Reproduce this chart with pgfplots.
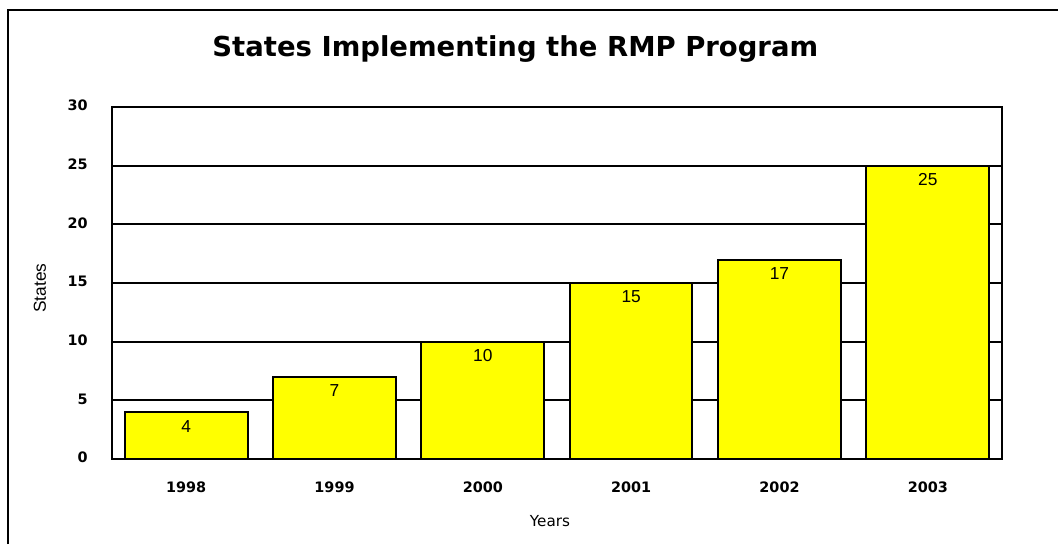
\documentclass[border=0pt]{standalone}
\usepackage{pgfplots}
\pgfplotsset{compat=1.18}
\usepackage{fontspec}
\setmainfont{DejaVu Sans}
\newfontfamily\lib{Liberation Sans}
\definecolor{baryellow}{RGB}{255,255,0}
\begin{document}
\begin{tikzpicture}
\path[use as bounding box] (0pt,0pt) rectangle (793.5pt,-408pt);
\draw[line width=1.5pt] (6pt,-408pt) -- (6pt,-7.5pt) -- (793.5pt,-7.5pt);
\node[font=\fontsize{20.6}{24}\selectfont\bfseries] at (386.5pt,-37pt) {States Implementing the RMP Program};
\node[font=\fontsize{11.4}{13}\selectfont] at (412.5pt,-390.75pt) {Years};
\node[font=\lib\fontsize{13}{15}\selectfont, rotate=90] at (30pt,-216pt) {States};
\begin{axis}[
  at={(84pt,-344.25pt)}, anchor=south west,
  width=667.5pt, height=264pt, scale only axis,
  xmin=-0.5, xmax=5.5, ymin=0, ymax=30,
  ybar, bar width=92pt,
  xtick=data,
  xticklabels={1998,1999,2000,2001,2002,2003},
  ytick={0,5,10,15,20,25,30},
  major tick length=0pt,
  ymajorgrids,
  grid style={black, line width=1.5pt},
  axis line style={black, line width=1.5pt},
  tick label style={font=\fontsize{10.8}{12}\selectfont\bfseries},
  /pgf/number format/assume math mode=true,
  xticklabel style={anchor=center, yshift=-21pt},
  yticklabel style={anchor=east, inner sep=0pt, xshift=-18pt, yshift=1pt},
  nodes near coords,
  every node near coord/.append style={font=\lib\fontsize{13}{15}\selectfont, anchor=north, inner sep=0pt, yshift=-5.25pt, black},
]
\addplot[fill=baryellow, draw=black, line width=1.5pt] coordinates {(0,4) (1,7) (2,10) (3,15) (4,17) (5,25)};
\draw[gray!70, line width=1.5pt] (rel axis cs:0,0) ++(0,-2.2pt) -- ([yshift=-2.2pt]rel axis cs:1,0);
\draw[black, line width=2.2pt] (rel axis cs:0,0) -- (rel axis cs:1,0);
\end{axis}
\end{tikzpicture}
\end{document}
